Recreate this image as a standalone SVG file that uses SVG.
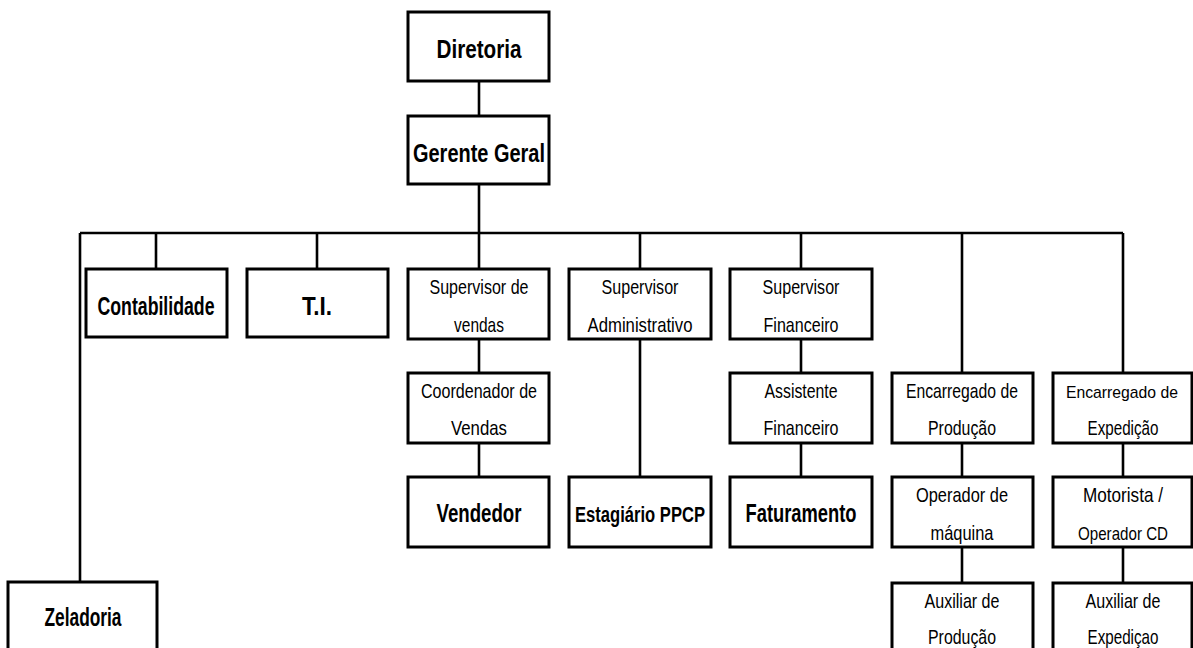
<svg xmlns="http://www.w3.org/2000/svg" width="1193" height="648" viewBox="0 0 1193 648">
<style>
.box{fill:#fff;stroke:#000;stroke-width:3}
.ln{stroke:#000;stroke-width:2.6;fill:none}
text{font-family:"Liberation Sans Narrow","Liberation Sans",Arial,sans-serif;fill:#000;text-anchor:middle}
.b{font-size:25px;font-weight:bold}
.r{font-size:21px}
.rs{font-size:19px}
.rx{font-size:17px}
.bs{font-size:22px;font-weight:bold}
</style>
<rect width="1193" height="648" fill="#fff"/>
<g id="connectors">
<path class="ln" d="M479 81V116M479 184V233M80 233H1123M80 233V582M156 233V269M317 233V269M479 233V269M640 233V269M801 233V269M962 233V373M1123 233V373"/>
<path class="ln" d="M479 339V373M479 443V477M640 339V477M801 339V373M801 443V477M962 443V477M962 547V583M1123 443V477M1123 547V583"/>
</g>
<g id="diretoria"><rect class="box" x="408" y="12" width="141" height="69"/><text class="b" x="479" y="58" textLength="85" lengthAdjust="spacingAndGlyphs">Diretoria</text></g>
<g id="gerente"><rect class="box" x="408" y="116" width="141" height="68"/><text class="b" x="479" y="162" textLength="132" lengthAdjust="spacingAndGlyphs">Gerente Geral</text></g>
<g id="contabilidade"><rect class="box" x="86" y="269" width="141" height="68"/><text class="b" x="156" y="315" textLength="117" lengthAdjust="spacingAndGlyphs">Contabilidade</text></g>
<g id="ti"><rect class="box" x="247" y="269" width="141" height="68"/><text class="b" x="317" y="315" textLength="30" lengthAdjust="spacingAndGlyphs">T.I.</text></g>
<g id="sup-vendas"><rect class="box" x="408" y="269" width="141" height="70"/><text class="r" x="479" y="294" textLength="99" lengthAdjust="spacingAndGlyphs">Supervisor de</text><text class="r" x="479" y="332" textLength="50" lengthAdjust="spacingAndGlyphs">vendas</text></g>
<g id="sup-adm"><rect class="box" x="569" y="269" width="142" height="70"/><text class="r" x="640" y="294" textLength="77" lengthAdjust="spacingAndGlyphs">Supervisor</text><text class="r" x="640" y="332" textLength="105" lengthAdjust="spacingAndGlyphs">Administrativo</text></g>
<g id="sup-fin"><rect class="box" x="730" y="269" width="142" height="70"/><text class="r" x="801" y="294" textLength="77" lengthAdjust="spacingAndGlyphs">Supervisor</text><text class="r" x="801" y="332" textLength="75" lengthAdjust="spacingAndGlyphs">Financeiro</text></g>
<g id="coord-vendas"><rect class="box" x="408" y="373" width="141" height="70"/><text class="r" x="479" y="398" textLength="116" lengthAdjust="spacingAndGlyphs">Coordenador de</text><text class="r" x="479" y="435" textLength="56" lengthAdjust="spacingAndGlyphs">Vendas</text></g>
<g id="assist-fin"><rect class="box" x="730" y="373" width="142" height="70"/><text class="r" x="801" y="398" textLength="73" lengthAdjust="spacingAndGlyphs">Assistente</text><text class="r" x="801" y="435" textLength="75" lengthAdjust="spacingAndGlyphs">Financeiro</text></g>
<g id="enc-prod"><rect class="box" x="892" y="373" width="141" height="70"/><text class="r" x="962" y="398" textLength="112" lengthAdjust="spacingAndGlyphs">Encarregado de</text><text class="r" x="962" y="435" textLength="68" lengthAdjust="spacingAndGlyphs">Produção</text></g>
<g id="enc-exp"><rect class="box" x="1053" y="373" width="139" height="70"/><text class="rx" x="1122" y="398" textLength="112" lengthAdjust="spacingAndGlyphs">Encarregado de</text><text class="r" x="1123" y="435" textLength="71" lengthAdjust="spacingAndGlyphs">Expedição</text></g>
<g id="vendedor"><rect class="box" x="408" y="477" width="141" height="70"/><text class="b" x="479" y="522" textLength="85" lengthAdjust="spacingAndGlyphs">Vendedor</text></g>
<g id="estagiario"><rect class="box" x="569" y="477" width="142" height="70"/><text class="bs" x="640" y="522" textLength="130" lengthAdjust="spacingAndGlyphs">Estagiário PPCP</text></g>
<g id="faturamento"><rect class="box" x="730" y="477" width="142" height="70"/><text class="b" x="801" y="522" textLength="111" lengthAdjust="spacingAndGlyphs">Faturamento</text></g>
<g id="operador"><rect class="box" x="892" y="477" width="141" height="70"/><text class="r" x="962" y="502" textLength="92" lengthAdjust="spacingAndGlyphs">Operador de</text><text class="r" x="962" y="540" textLength="63" lengthAdjust="spacingAndGlyphs">máquina</text></g>
<g id="motorista"><rect class="box" x="1053" y="477" width="139" height="70"/><text class="r" x="1123" y="502" textLength="80" lengthAdjust="spacingAndGlyphs">Motorista /</text><text class="rs" x="1123" y="540" textLength="90" lengthAdjust="spacingAndGlyphs">Operador CD</text></g>
<g id="aux-prod"><rect class="box" x="892" y="583" width="141" height="80"/><text class="r" x="962" y="608" textLength="75" lengthAdjust="spacingAndGlyphs">Auxiliar de</text><text class="r" x="962" y="644" textLength="68" lengthAdjust="spacingAndGlyphs">Produção</text></g>
<g id="aux-exp"><rect class="box" x="1053" y="583" width="139" height="80"/><text class="r" x="1123" y="608" textLength="75" lengthAdjust="spacingAndGlyphs">Auxiliar de</text><text class="r" x="1123" y="644" textLength="71" lengthAdjust="spacingAndGlyphs">Expediçao</text></g>
<g id="zeladoria"><rect class="box" x="8" y="582" width="149" height="80"/><text class="b" x="83" y="626" textLength="77" lengthAdjust="spacingAndGlyphs">Zeladoria</text></g>
</svg>
